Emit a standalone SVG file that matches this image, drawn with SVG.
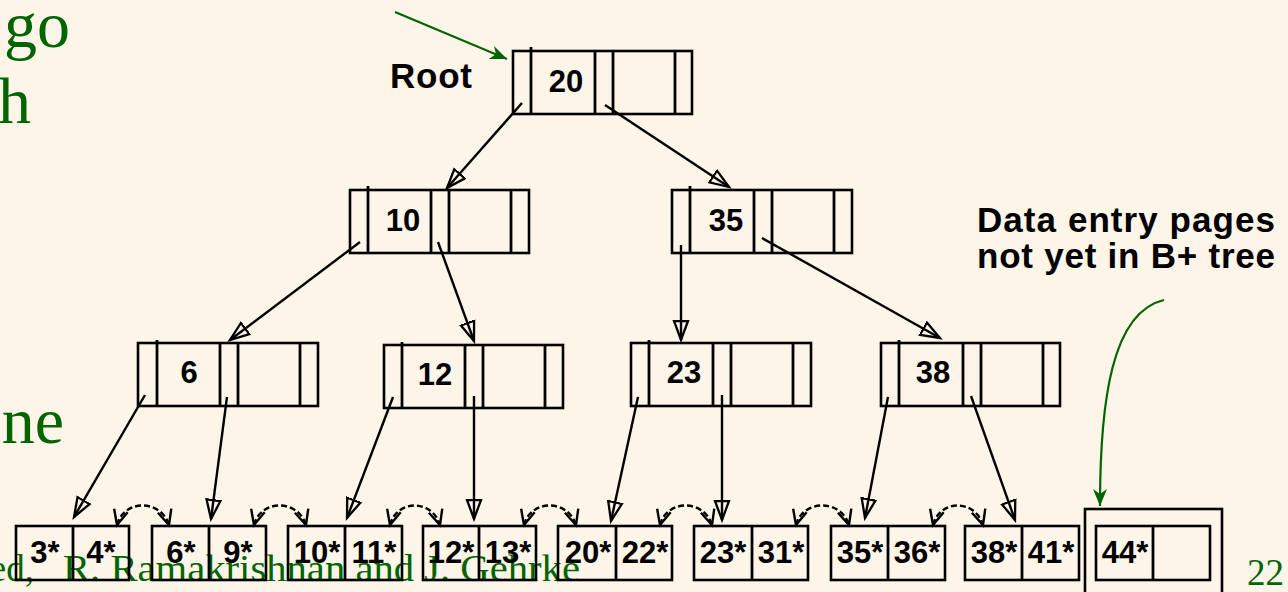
<svg xmlns="http://www.w3.org/2000/svg" width="1288" height="592" viewBox="0 0 1288 592">
<style>
.bg{fill:#FEF5E9}
.box{fill:none;stroke:#000;stroke-width:2.6}
.div{stroke:#000;stroke-width:2.8}
.key{font-family:"Liberation Sans",Arial,sans-serif;font-weight:bold;font-size:31px;fill:#000;text-anchor:middle}
.leaf{font-family:"Liberation Sans",Arial,sans-serif;font-weight:bold;font-size:31px;fill:#000;text-anchor:middle}
.lbl{font-family:"Liberation Sans",Arial,sans-serif;font-weight:bold;font-size:35px;fill:#000}
.slide{font-family:"Liberation Serif","Times New Roman",serif;fill:#006400}
.arr{stroke:#000;stroke-width:2.4;fill:none;marker-end:url(#ah)}
.sib{stroke:#000;stroke-width:2.4;fill:none;stroke-dasharray:6 3;marker-start:url(#vh);marker-end:url(#vh)}
.garr{stroke:#006400;stroke-width:2.2;fill:none;marker-end:url(#gh)}
</style>
<defs>
<marker id="ah" markerUnits="userSpaceOnUse" markerWidth="24" markerHeight="18" refX="20" refY="9" orient="auto">
<path d="M1,2 L20,9 L1,16 Z" fill="none" stroke="#000" stroke-width="2.3"/>
</marker>
<marker id="vh" markerUnits="userSpaceOnUse" markerWidth="20" markerHeight="18" refX="16" refY="9" orient="auto-start-reverse">
<path d="M1,2 L16,9 L1,16" fill="none" stroke="#000" stroke-width="2.4"/>
</marker>
<marker id="gh" markerUnits="userSpaceOnUse" markerWidth="20" markerHeight="16" refX="17" refY="8" orient="auto">
<path d="M0,1 L17,8 L0,15 L5,8 Z" fill="#006400"/>
</marker>
</defs>
<rect class="bg" x="0" y="0" width="1288" height="592"/>

<g id="slide-text">
<text class="slide" x="70" y="47" font-size="66" text-anchor="end">go</text>
<text class="slide" x="31" y="123" font-size="66" text-anchor="end">h</text>
<text class="slide" x="64" y="443" font-size="66" text-anchor="end">ne</text>
<text class="slide" x="34" y="581" font-size="37" text-anchor="end">ed,</text>
<text class="slide" x="63" y="581" font-size="37" textLength="517" lengthAdjust="spacingAndGlyphs">R. Ramakrishnan and J. Gehrke</text>
<text class="slide" x="1284" y="585" font-size="37" text-anchor="end">22</text>
</g>

<g id="labels">
<text class="lbl" x="390" y="88" textLength="82">Root</text>
<text class="lbl" x="977" y="232" textLength="298">Data entry pages</text>
<text class="lbl" x="977" y="268" textLength="298">not yet in B+ tree</text>
</g>

<g id="node-root">
<rect class="box" x="513" y="51" width="179" height="63"/>
<line class="div" x1="531" y1="47" x2="531" y2="114"/>
<line class="div" x1="595" y1="51" x2="595" y2="114"/>
<line class="div" x1="613" y1="51" x2="613" y2="114"/>
<line class="div" x1="675" y1="51" x2="675" y2="114"/>
<text class="key" x="566" y="92">20</text>
</g>

<g id="node-10">
<rect class="box" x="350" y="190" width="179" height="63"/>
<line class="div" x1="368" y1="186" x2="368" y2="253"/>
<line class="div" x1="431" y1="190" x2="431" y2="253"/>
<line class="div" x1="449" y1="190" x2="449" y2="253"/>
<line class="div" x1="511" y1="190" x2="511" y2="253"/>
<text class="key" x="403" y="231">10</text>
</g>

<g id="node-35">
<rect class="box" x="672" y="190" width="180" height="63"/>
<line class="div" x1="690" y1="186" x2="690" y2="253"/>
<line class="div" x1="754" y1="190" x2="754" y2="253"/>
<line class="div" x1="772" y1="190" x2="772" y2="253"/>
<line class="div" x1="834" y1="190" x2="834" y2="253"/>
<text class="key" x="726" y="231">35</text>
</g>

<g id="node-6">
<rect class="box" x="138" y="343" width="180" height="63"/>
<line class="div" x1="157" y1="340" x2="157" y2="406"/>
<line class="div" x1="220" y1="343" x2="220" y2="406"/>
<line class="div" x1="238" y1="343" x2="238" y2="406"/>
<line class="div" x1="300" y1="343" x2="300" y2="406"/>
<text class="key" x="189" y="383">6</text>
</g>

<g id="node-12">
<rect class="box" x="384" y="345" width="179" height="63"/>
<line class="div" x1="402" y1="342" x2="402" y2="408"/>
<line class="div" x1="465" y1="345" x2="465" y2="408"/>
<line class="div" x1="483" y1="345" x2="483" y2="408"/>
<line class="div" x1="545" y1="345" x2="545" y2="408"/>
<text class="key" x="435" y="385">12</text>
</g>

<g id="node-23">
<rect class="box" x="631" y="343" width="180" height="63"/>
<line class="div" x1="649" y1="340" x2="649" y2="406"/>
<line class="div" x1="713" y1="343" x2="713" y2="406"/>
<line class="div" x1="731" y1="343" x2="731" y2="406"/>
<line class="div" x1="793" y1="343" x2="793" y2="406"/>
<text class="key" x="684" y="383">23</text>
</g>

<g id="node-38">
<rect class="box" x="881" y="343" width="179" height="63"/>
<line class="div" x1="899" y1="340" x2="899" y2="406"/>
<line class="div" x1="963" y1="343" x2="963" y2="406"/>
<line class="div" x1="981" y1="343" x2="981" y2="406"/>
<line class="div" x1="1043" y1="343" x2="1043" y2="406"/>
<text class="key" x="933" y="383">38</text>
</g>

<g id="leaf-1">
<rect class="box" x="16" y="526" width="113" height="54"/>
<line class="div" x1="73" y1="526" x2="73" y2="580"/>
<text class="leaf" x="45" y="563">3*</text>
<text class="leaf" x="101" y="563">4*</text>
</g>
<g id="leaf-2">
<rect class="box" x="152" y="526" width="114" height="54"/>
<line class="div" x1="209" y1="526" x2="209" y2="580"/>
<text class="leaf" x="181" y="563">6*</text>
<text class="leaf" x="238" y="563">9*</text>
</g>
<g id="leaf-3">
<rect class="box" x="288" y="526" width="114" height="54"/>
<line class="div" x1="345" y1="526" x2="345" y2="580"/>
<text class="leaf" x="317" y="563">10*</text>
<text class="leaf" x="374" y="563">11*</text>
</g>
<g id="leaf-4">
<rect class="box" x="423" y="526" width="113" height="54"/>
<line class="div" x1="479" y1="526" x2="479" y2="580"/>
<text class="leaf" x="451" y="563">12*</text>
<text class="leaf" x="508" y="563">13*</text>
</g>
<g id="leaf-5">
<rect class="box" x="558" y="526" width="114" height="54"/>
<line class="div" x1="616" y1="526" x2="616" y2="580"/>
<text class="leaf" x="588" y="563">20*</text>
<text class="leaf" x="645" y="563">22*</text>
</g>
<g id="leaf-6">
<rect class="box" x="694" y="526" width="114" height="54"/>
<line class="div" x1="752" y1="526" x2="752" y2="580"/>
<text class="leaf" x="723" y="563">23*</text>
<text class="leaf" x="781" y="563">31*</text>
</g>
<g id="leaf-7">
<rect class="box" x="831" y="526" width="114" height="54"/>
<line class="div" x1="888" y1="526" x2="888" y2="580"/>
<text class="leaf" x="860" y="563">35*</text>
<text class="leaf" x="917" y="563">36*</text>
</g>
<g id="leaf-8">
<rect class="box" x="965" y="526" width="114" height="54"/>
<line class="div" x1="1022" y1="526" x2="1022" y2="580"/>
<text class="leaf" x="994" y="563">38*</text>
<text class="leaf" x="1051" y="563">41*</text>
</g>
<g id="leaf-9">
<rect class="box" x="1085" y="509" width="137" height="95"/>
<rect class="box" x="1096" y="526" width="114" height="54"/>
<line class="div" x1="1153" y1="526" x2="1153" y2="580"/>
<text class="leaf" x="1125" y="563">44*</text>
</g>

<g id="connectors">
<path class="arr" d="M522,103 L447,188"/>
<path class="arr" d="M605,105 L729,187"/>
<path class="arr" d="M360,242 L230,340"/>
<path class="arr" d="M438,242 L474,341"/>
<path class="arr" d="M681,245 L681,340"/>
<path class="arr" d="M762,238 L940,338"/>
<path class="arr" d="M145,395 L74,517"/>
<path class="arr" d="M227,397 L211,519"/>
<path class="arr" d="M393,397 L347,518"/>
<path class="arr" d="M474,396 L474,519"/>
<path class="arr" d="M638,397 L611,521"/>
<path class="arr" d="M722,395 L722,520"/>
<path class="arr" d="M888,397 L865,518"/>
<path class="arr" d="M971,396 L1015,520"/>

<path class="sib" d="M117,525 C124,499 161,499 169,525"/>
<path class="sib" d="M254,525 C261,499 298,499 306,525"/>
<path class="sib" d="M390,525 C397,499 432,499 440,525"/>
<path class="sib" d="M524,525 C531,499 568,499 576,525"/>
<path class="sib" d="M660,525 C667,499 704,499 712,525"/>
<path class="sib" d="M796,525 C803,499 841,499 849,525"/>
<path class="sib" d="M933,525 C940,499 975,499 983,525"/>

<path class="garr" d="M395,12 L507,59"/>
<path class="garr" d="M1164,300 C1112,312 1100,400 1100,506"/>
</g>
</svg>
